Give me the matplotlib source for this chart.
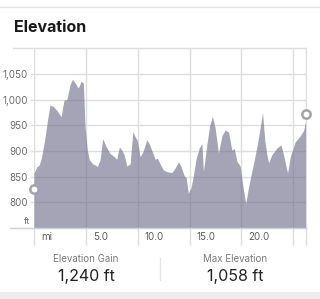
import matplotlib
matplotlib.use("Agg")
import matplotlib.pyplot as plt
from matplotlib.lines import Line2D
from matplotlib.patches import Rectangle
from matplotlib.transforms import offset_copy

plt.rcParams['font.family'] = ['Inter', 'DejaVu Sans']

# elevation profile (miles, feet)
miles = [0.00, 0.26, 0.51, 0.74, 1.06, 1.28, 1.54, 1.86, 2.19, 2.61, 2.90, 3.16,
         3.47, 3.70, 3.96, 4.28, 4.54, 4.76, 4.92, 5.14, 5.34, 5.67, 5.89, 6.11,
         6.37, 6.63, 6.95, 7.34, 7.75, 7.98, 8.23, 8.47, 8.69, 8.95, 9.27, 9.53,
         9.75, 9.97, 10.23, 10.49, 10.88, 11.10, 11.46, 11.68, 11.90, 12.16, 12.48,
         12.81, 13.29, 13.61, 13.93, 14.16, 14.48, 14.67, 14.89, 15.13, 15.38, 15.64,
         15.93, 16.19, 16.34, 16.60, 16.92, 17.21, 17.47, 17.79, 18.12, 18.44, 18.76,
         19.08, 19.31, 19.57, 19.88, 20.15, 20.42, 20.69, 21.11, 21.50, 21.81, 22.04,
         22.25, 22.44, 22.62, 22.94, 23.43, 23.81, 24.06, 24.45, 24.71, 25.19, 25.68,
         26.00, 26.23]
feet = [857, 869, 873, 889, 926, 957, 990, 987, 980, 967, 1000, 1000,
        1029, 1040, 1033, 1023, 1036, 1033, 948, 902, 883, 875, 873, 870,
        883, 924, 909, 895, 889, 884, 908, 902, 893, 871, 875, 938,
        928, 920, 889, 898, 922, 915, 896, 884, 886, 875, 863,
        860, 858, 867, 879, 871, 852, 848, 818, 828, 853, 886,
        906, 915, 860, 902, 948, 968, 945, 896, 930, 941, 937,
        902, 905, 880, 871, 831, 798, 830, 870, 909, 945, 975,
        922, 895, 877, 893, 906, 912, 893, 857, 889, 918, 930,
        940, 963]

marker_mi = [0.0, 26.23]
marker_ft = [826, 972]

y_ticks = [800, 850, 900, 950, 1000, 1050]
y_labels = ['800', '850', '900', '950', '1,000', '1,050']
x_ticks = [0, 5, 10, 15, 20, 25, 26.23]
x_labels = ['mi', '5.0', '10.0', '15.0', '20.0', '', '']

stat_titles = ['Elevation Gain', 'Max Elevation']
stat_values = ['1,240 ft', '1,058 ft']

grid_c = '#dedede'
px = 72 / 100  # points per pixel

fig = plt.figure(figsize=(3.2, 2.99), dpi=100)
ax = fig.add_axes([34 / 320, 71 / 299, 272 / 320, 180 / 299])

ax.fill_between(miles, feet, 750, color='#6a6888', alpha=0.6, lw=0, zorder=2)
ax.plot(marker_mi, marker_ft, 'o', ms=6, mfc='white', mec='#a3a2b4', mew=1.8,
        clip_on=False, zorder=5)

ax.set_xlim(0, 26.23)
ax.set_ylim(750, 1101)

ax.set_yticks(y_ticks, y_labels)
ax.set_xticks(x_ticks, [''] * len(x_ticks))
ax.tick_params(axis='y', length=4 * px, width=1, color=grid_c, pad=1.5,
               labelsize=7, labelcolor='#6a6a6a')
ax.tick_params(axis='x', length=17 * px, width=1, color=grid_c)
ax.grid(True, color=grid_c, lw=1, zorder=1)
ax.set_axisbelow(True)

for s in ax.spines.values():
    s.set_visible(False)
ax.spines['right'].set_visible(True)
ax.spines['right'].set_color(grid_c)

# baseline and top rule run a little past the left edge
ax.axhline(750, xmin=-24 / 272, xmax=1, color='#d0d0d0', lw=1, clip_on=False, zorder=3)
ax.axhline(1101, xmin=-21 / 272, xmax=1, color=grid_c, lw=1, clip_on=False, zorder=1)

ax.text(-0.015, 753, 'ft', transform=ax.get_yaxis_transform(), ha='right', va='bottom',
        fontsize=6.5, color='#6a6a6a')

lab_tr = offset_copy(ax.get_xaxis_transform(), fig=fig, x=7, y=0, units='dots')
for t, l in zip(x_ticks, x_labels):
    ax.text(t, -0.05, l, transform=lab_tr, ha='left', va='center',
            fontsize=7, color='#5a5a5a')

fig.text(14 / 320, 1 - 28 / 299, 'Elevation', fontsize=11.5, fontweight='bold',
         color='#1a1a1a', ha='left', va='center')

for cx, t, v in zip([86, 235], stat_titles, stat_values):
    fig.text(cx / 320, 1 - 259 / 299, t, fontsize=7, color='#777777', ha='center', va='center')
    fig.text(cx / 320, 1 - 276 / 299, v, fontsize=11.5, color='#222222', ha='center', va='center')

fig.add_artist(Line2D([160 / 320] * 2, [1 - 258 / 299, 1 - 280 / 299],
                      transform=fig.transFigure, color='#e6e6e6', lw=1))
fig.add_artist(Line2D([0, 1], [1 - 7 / 299] * 2, transform=fig.transFigure,
                      color='#e6e6e6', lw=1))
fig.add_artist(Rectangle((0, 0), 1, 7 / 299, transform=fig.transFigure,
                         color='#ededed', lw=0))

fig.savefig('out.png', dpi=100)
